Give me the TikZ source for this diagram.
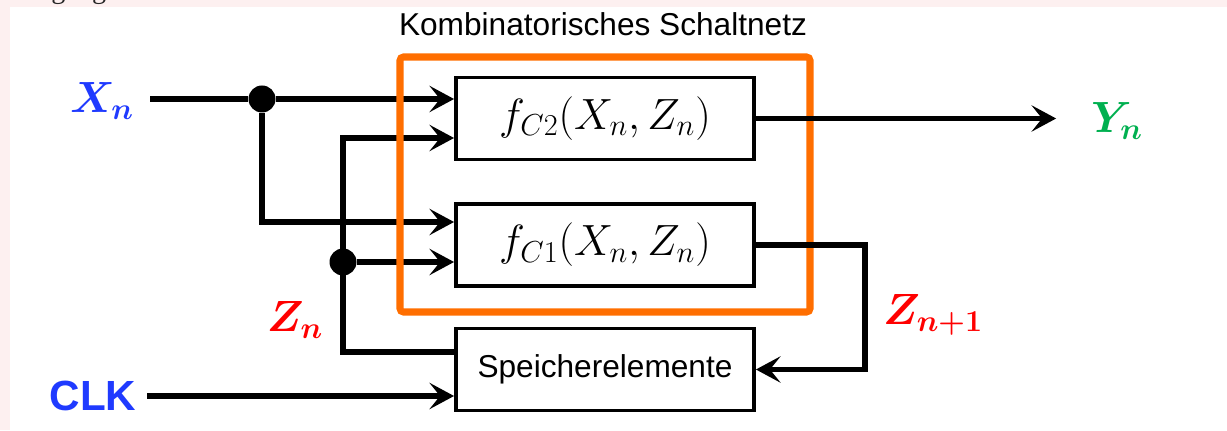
\documentclass[tikz,border=0pt]{standalone}
\usepackage[no-math]{fontspec}
\setmainfont{Liberation Sans}
\newfontfamily\slidefont{Liberation Serif}
\usepackage{amsmath,bm}
\usetikzlibrary{arrows.meta, positioning, calc}
\definecolor{sigblue}{RGB}{31,58,255}
\definecolor{siggreen}{RGB}{0,176,80}
\definecolor{sigred}{RGB}{255,0,0}
\definecolor{combo}{RGB}{255,110,0}
\definecolor{slidepink}{RGB}{253,240,240}

\begin{document}
\begin{tikzpicture}[
  blk/.style={rectangle,draw=black,line width=2.2pt,minimum width=5.96cm,minimum height=1.64cm,inner sep=0pt,align=center},
  comb/.style={rectangle,draw=combo,line width=4pt,rounded corners=2pt,minimum width=8.2cm,minimum height=5.1cm},
  arr/.style={-{Stealth[length=14pt,width=15pt,inset=6pt]},line width=3pt},
  wire/.style={line width=3pt},
  dot/.style={circle,fill=black,inner sep=0pt,minimum size=0.54cm},
  sig/.style={font=\fontsize{23}{27}\selectfont,inner sep=2pt}
]
  \useasboundingbox (0,0) rectangle (24.54,8.6);
  \fill[slidepink] (0,8.46) rectangle (24.54,8.6);
  \fill[slidepink] (0,0) rectangle (0.2,8.6);
  \node[anchor=base west,font=\slidefont\fontsize{16}{19}\selectfont,text=black!85,inner sep=0pt] (cut) at (0.24,8.62) {Eingang.};

  % blocks
  \node[blk] (fc2) at (12.1,6.23) {\fontsize{23}{28}\selectfont$f_{C2}(X_n,Z_n)$};
  \node[blk] (fc1) at (12.1,3.70) {\fontsize{23}{28}\selectfont$f_{C1}(X_n,Z_n)$};
  \node[blk] (mem) at (12.1,1.21) {\fontsize{18}{22}\selectfont Speicherelemente};

  % signals
  \node[sig,text=sigblue] (xn) at (2.04,6.58) {$\boldsymbol{X}_{\boldsymbol{n}}$};
  \node[sig,text=siggreen] (yn) at (22.34,6.18) {$\boldsymbol{Y}_{\boldsymbol{n}}$};
  \node[sig,text=sigred] (zn) at (5.9,2.2) {$\boldsymbol{Z}_{\boldsymbol{n}}$};
  \node[sig,text=sigred] (zn1) at (18.66,2.3) {$\boldsymbol{Z}_{\boldsymbol{n+1}}$};
  \node[font=\bfseries\fontsize{24}{28}\selectfont,text=sigblue,inner sep=2pt] (clk) at (1.86,0.68) {CLK};

  \node[dot] (d1) at (5.24,6.62) {};
  \node[dot] (d2) at (6.86,3.36) {};
  \coordinate (xlow) at ($(fc1.west)+(0,0.46)$);
  \coordinate (ztop) at (6.86,5.84);
  \coordinate (zout) at ($(mem.west)+(0,0.35)$);
  \coordinate (fb) at (17.3,2.5);

  % inputs
  \draw[wire,shorten <=0.25cm] (xn.east |- d1) -- (d1);
  \draw[arr] (d1) -- (d1 -| fc2.west);
  \draw[arr] (d1) |- (xlow);
  \draw[arr] (zout) -| (ztop) -- (ztop -| fc2.west);
  \draw[arr] (d2) -- (d2 -| fc1.west);
  \draw[arr,shorten <=0.14cm] (clk.east) -- (clk.east -| mem.west);

  % combinational part
  \node[comb] (net) at (12.1,4.91) {};
  \node[font=\fontsize{18}{22}\selectfont] (title) at (12.06,8.12) {Kombinatorisches Schaltnetz};

  % outputs
  \draw[arr,shorten >=0.62cm] (fc2.east) -- (fc2.east -| yn.west);
  \draw[arr] (fc1.east) -| (fb) |- (mem.east);
\end{tikzpicture}
\end{document}
